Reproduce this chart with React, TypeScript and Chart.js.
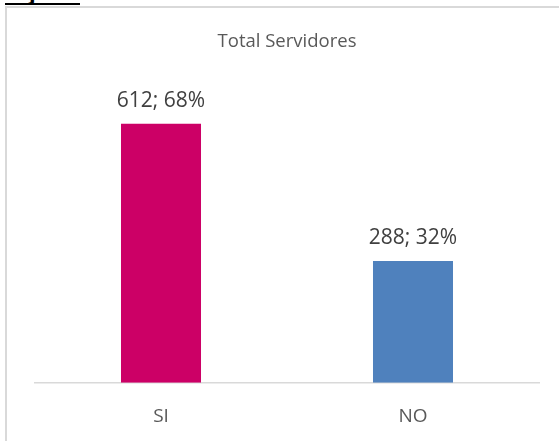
import React, { useEffect, useRef } from "react";
import { Chart, registerables } from "chart.js";

Chart.register(...registerables);

const categories = ["SI", "NO"];
const values = [612, 288];
const percents = [68, 32];
const barColors = ["#CC0066", "#4F81BD"];
const chartTitle = "Total Servidores";
const headingText = "Hijos:";
const yMax = 700;

const FONT = "'Open Sans', sans-serif";

const dataLabelPlugin = {
  id: "dataLabels",
  afterDatasetsDraw(chart: any) {
    const ctx = chart.ctx;
    const meta = chart.getDatasetMeta(0);
    ctx.save();
    ctx.font = `21px ${FONT}`;
    ctx.fillStyle = "#404040";
    ctx.textAlign = "center";
    ctx.textBaseline = "middle";
    meta.data.forEach((el: any, i: number) => {
      ctx.fillText(`${values[i]}; ${percents[i]}%`, el.x, el.y - 22.5);
    });
    ctx.restore();
  },
};

export default function App() {
  const canvasRef = useRef<HTMLCanvasElement | null>(null);

  useEffect(() => {
    const canvas = canvasRef.current;
    if (!canvas) return;
    const chart = new Chart(canvas, {
      type: "bar",
      data: {
        labels: categories,
        datasets: [
          {
            data: values,
            backgroundColor: barColors,
            borderWidth: 0,
            categoryPercentage: 1,
            barPercentage: 0.3175,
          },
        ],
      },
      options: {
        animation: false,
        responsive: false,
        devicePixelRatio: 1,
        layout: { padding: { left: 28, right: 20, top: 0, bottom: 0.6 } },
        plugins: {
          legend: { display: false },
          tooltip: { enabled: false },
          title: {
            display: true,
            text: chartTitle,
            color: "#595959",
            font: { family: FONT, size: 18.5, weight: "normal" as any },
            padding: { top: 22.9, bottom: 33.5 },
          },
        },
        scales: {
          x: {
            grid: { display: false, drawTicks: false },
            border: { display: true, color: "#d9d9d9", width: 1.5 },
            ticks: {
              color: "#595959",
              font: { family: FONT, size: 19 },
              padding: 22.4,
            },
          },
          y: {
            display: false,
            min: 0,
            max: yMax,
          },
        },
      },
      plugins: [dataLabelPlugin],
    });
    return () => chart.destroy();
  }, []);

  return (
    <div
      style={{
        position: "absolute",
        left: 0,
        top: 0,
        width: 559,
        height: 441,
        overflow: "hidden",
        background: "#ffffff",
      }}
    >
      <div
        style={{
          position: "absolute",
          left: 5,
          top: -19,
          height: 22,
          lineHeight: "22px",
          fontSize: 24,
          fontWeight: "bold",
          fontFamily: "'Liberation Sans', Arial, sans-serif",
          borderBottom: "2.5px solid #000",
          color: "#000",
          width: 75,
          whiteSpace: "nowrap",
        }}
      >
        {headingText}
      </div>
      <div
        style={{
          position: "absolute",
          left: 5,
          top: 6,
          width: 560,
          height: 440,
          borderLeft: "2px solid #d9d9d9",
          borderTop: "2px solid #d9d9d9",
          boxSizing: "border-box",
        }}
      />
      <canvas
        ref={canvasRef}
        width={552}
        height={443}
        style={{ position: "absolute", left: 7, top: 8, width: 552, height: 443 }}
      />
    </div>
  );
}
